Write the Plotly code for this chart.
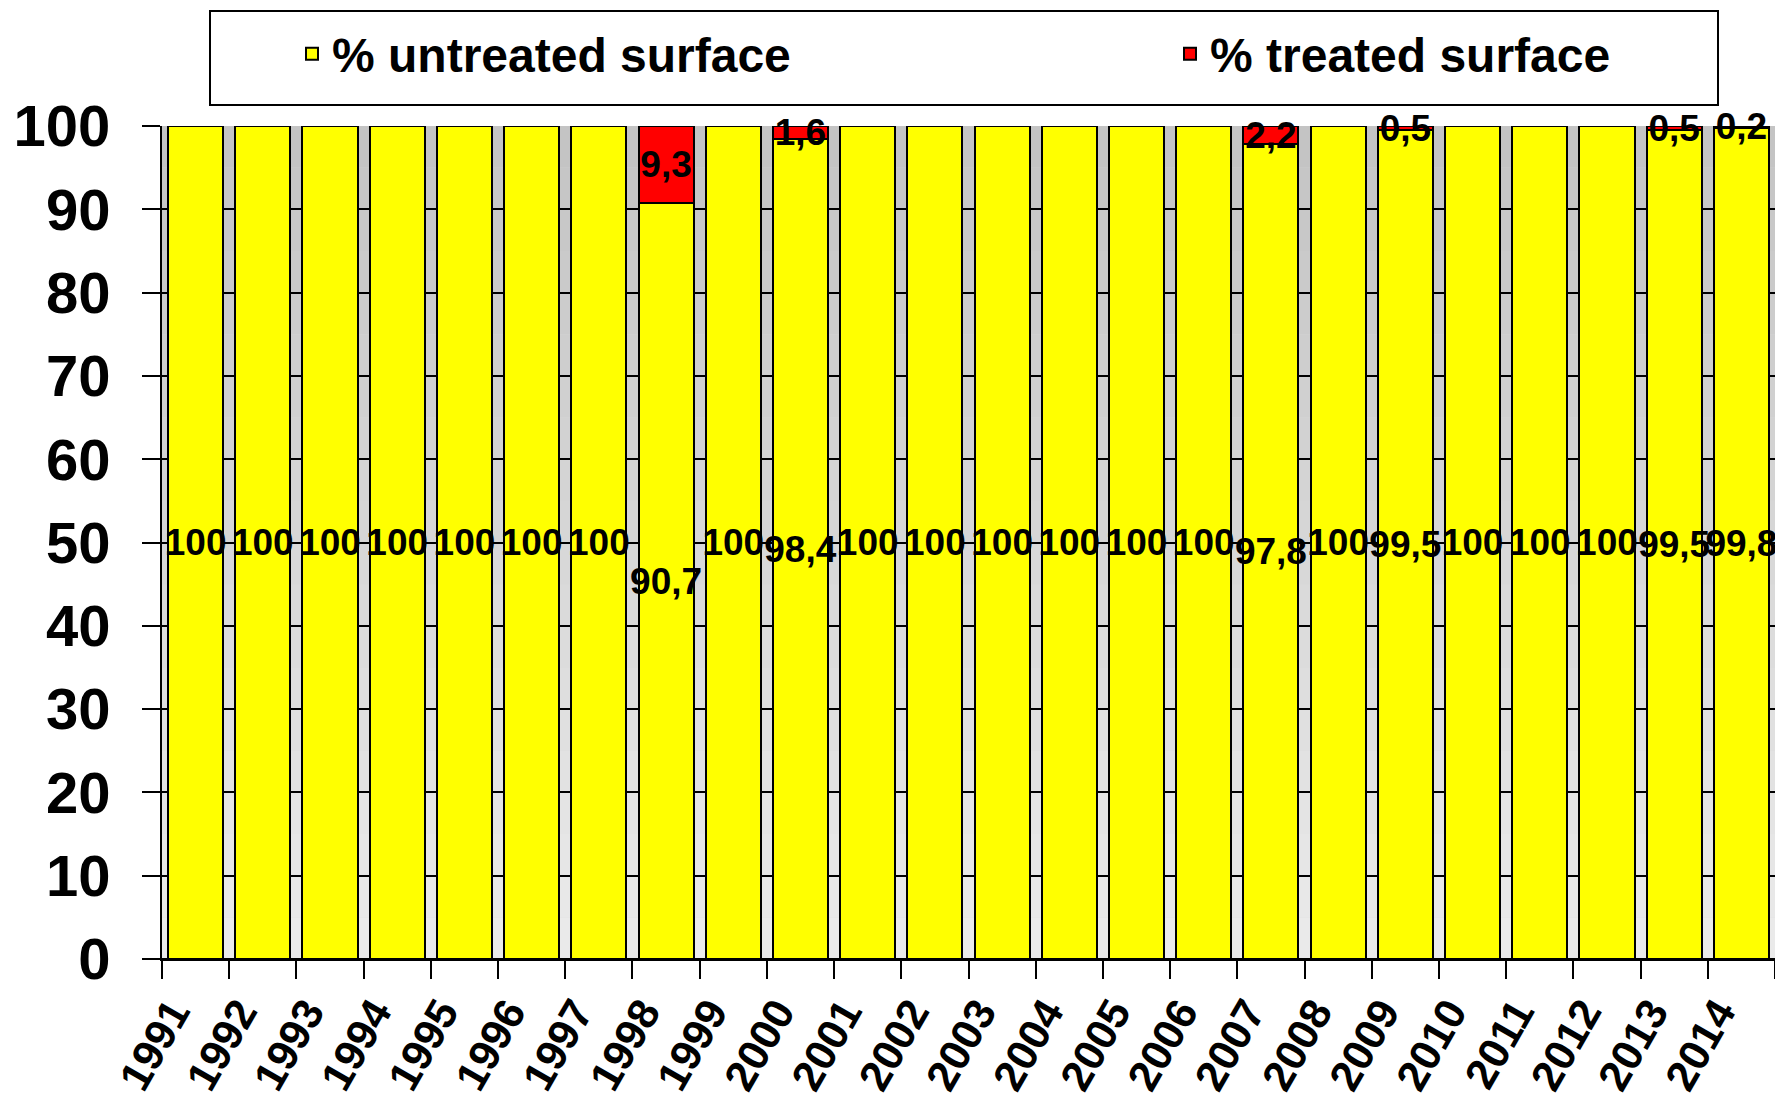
import plotly.graph_objects as go

years = [str(y) for y in range(1991, 2015)]
untreated = [100, 100, 100, 100, 100, 100, 100, 90.7, 100, 98.4, 100, 100,
             100, 100, 100, 100, 97.8, 100, 99.5, 100, 100, 100, 99.5, 99.8]
treated = [0, 0, 0, 0, 0, 0, 0, 9.3, 0, 1.6, 0, 0,
           0, 0, 0, 0, 2.2, 0, 0.5, 0, 0, 0, 0.5, 0.2]
y_ticks = list(range(0, 101, 10))


def fmt(v):
    return ("%g" % v).replace(".", ",") if v else ""


W, H = 1775, 1105
ML, MR, MT, MB = 162, 0, 126, 146
pw = W - ML - MR
ph = H - MT - MB

NARROW = "Liberation Sans Narrow, Arial Narrow, Liberation Sans, Arial"
label_font = dict(family=NARROW, size=37, color="black", weight="bold")

fig = go.Figure()
fig.add_trace(go.Bar(
    x=years, y=untreated, name="% untreated surface",
    marker=dict(color="#FFFF00", line=dict(color="black", width=2)),
    width=0.82, legend="legend",
    text=[fmt(v) for v in untreated], textposition="inside",
    insidetextanchor="middle", constraintext="none", textangle=0,
    textfont=label_font, cliponaxis=False, hoverinfo="x+y",
))
fig.add_trace(go.Bar(
    x=years, y=treated, name="% treated surface",
    marker=dict(color="#FF0000", line=dict(color="black", width=2)),
    width=0.82, legend="legend2",
    text=[fmt(v) for v in treated], textposition="inside",
    insidetextanchor="middle", constraintext="none", textangle=0,
    textfont=label_font, cliponaxis=False, hoverinfo="x+y",
))

# gradient plot background
shapes = []
n = 20
for i in range(n):
    t = i / (n - 1)
    g = int(0xC4 + (0xEA - 0xC4) * t)
    shapes.append(dict(type="rect", xref="x domain", yref="y domain",
                       x0=0, x1=1, y0=1 - (i + 1) / n, y1=1 - i / n,
                       fillcolor="rgb(%d,%d,%d)" % (g, g, g),
                       line=dict(width=0), layer="below"))


def px_x(v):
    return (v - ML) / pw


def px_y(v):
    return (H - MB - v) / ph


# legend frame
shapes.append(dict(type="rect", xref="paper", yref="paper",
                   x0=px_x(210), x1=px_x(1718), y0=px_y(105), y1=px_y(11),
                   fillcolor="white", line=dict(color="black", width=2),
                   layer="below"))

leg_common = dict(orientation="h", xanchor="left", y=px_y(54), yanchor="middle",
                  bgcolor="rgba(0,0,0,0)", borderwidth=0,
                  font=dict(size=48, weight="bold", color="black"))

fig.update_layout(
    width=W, height=H,
    margin=dict(l=ML, r=MR, t=MT, b=MB, pad=0, autoexpand=False),
    barmode="stack",
    paper_bgcolor="white",
    plot_bgcolor="#d8d8d8",
    font=dict(family="Liberation Sans, Arial, sans-serif", color="black"),
    shapes=shapes,
    showlegend=True,
    legend=dict(x=px_x(292), **leg_common),
    legend2=dict(x=px_x(1170), **leg_common),
    xaxis=dict(type="category", tickson="boundaries", ticks="outside",
               ticklen=18, tickwidth=2, tickcolor="black",
               tickangle=-60, ticklabelshift=-23, ticklabelstandoff=9,
               tickfont=dict(family=NARROW, size=43, weight="bold", color="black"),
               showline=True, linecolor="black", linewidth=2,
               showgrid=False, range=[-0.5, 23.5]),
    yaxis=dict(range=[0, 100], tickvals=y_ticks, ticks="outside",
               ticklen=18, tickwidth=2, tickcolor="black",
               tickfont=dict(size=58, weight="bold", color="black"),
               showline=True, linecolor="black", linewidth=2,
               showgrid=True, gridcolor="black", gridwidth=2,
               zeroline=True, zerolinecolor="black", zerolinewidth=2,
               ticklabelstandoff=20),
)

fig.write_html("out.html", config={"displayModeBar": False},
               post_script="document.body.style.margin='0';")
